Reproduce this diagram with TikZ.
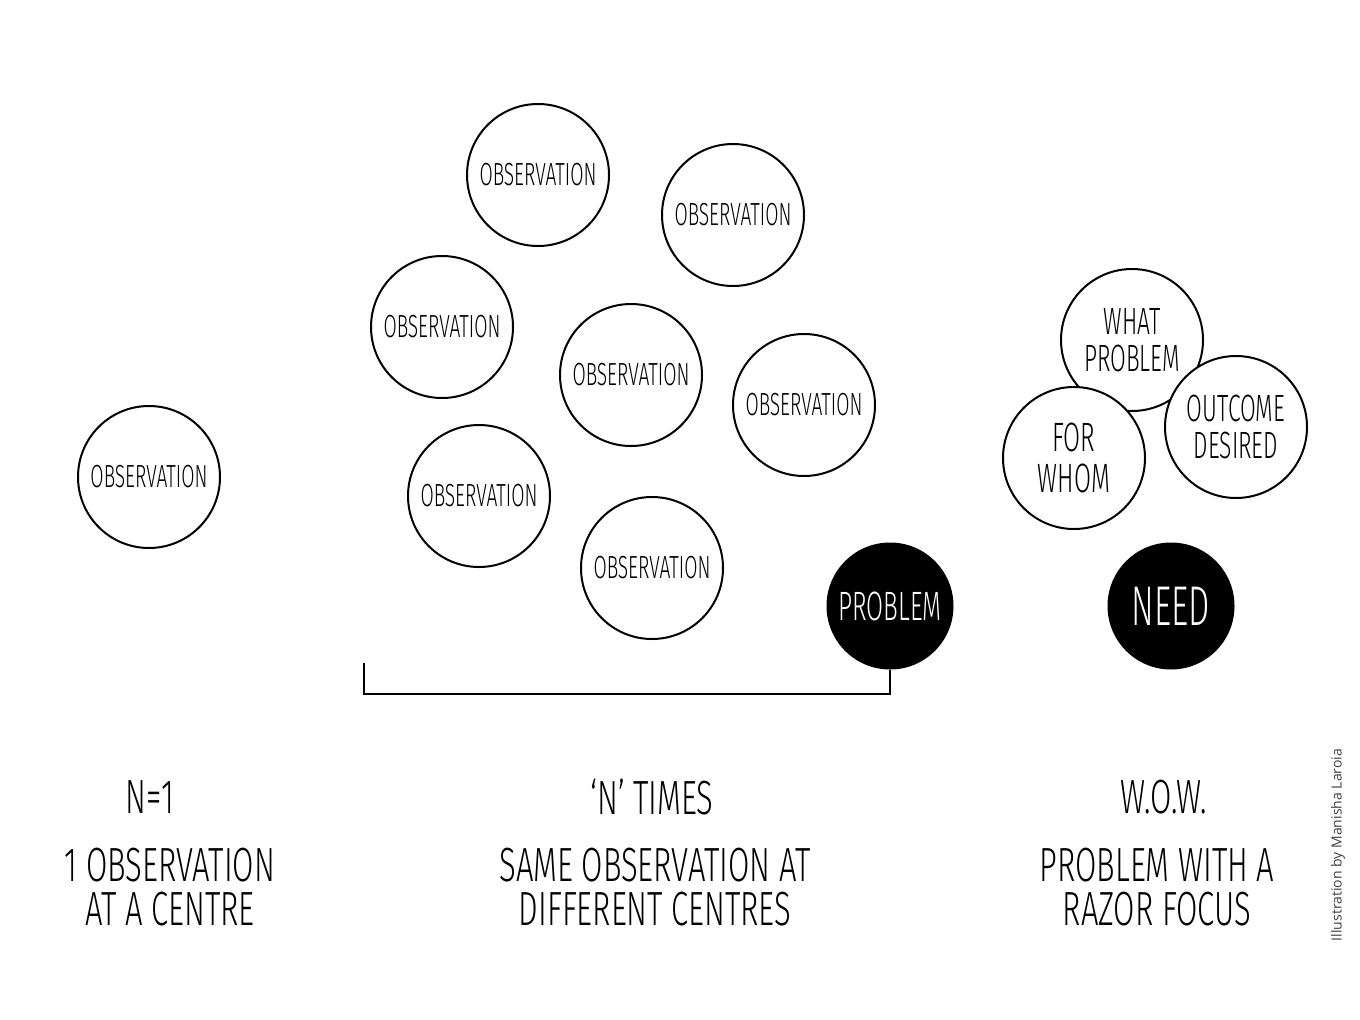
\documentclass[tikz,border=0pt]{standalone}
\usepackage{fontspec}
\setmainfont{Fira Sans}[UprightFont=* Light, FakeStretch=0.60]
\newfontfamily\capfont{Fira Sans}[UprightFont=* Light, FakeStretch=0.645]
\newfontfamily\creditfont{Open Sans}
\begin{document}
\begin{tikzpicture}[x=1pt,y=-1pt,
  obs/.style={circle, draw, line width=2pt, fill=white, minimum size=142pt, inner sep=0pt, align=center,
    font=\fontsize{32}{32}\selectfont},
  trio/.style={obs, font=\fontsize{38}{37}\selectfont},
  blk/.style={circle, fill=black, text=white, minimum size=127pt, inner sep=0pt},
  caption/.style={align=center, font=\capfont\fontsize{48}{44}\selectfont, inner sep=0pt},
  bracketline/.style={line width=2pt}]
\useasboundingbox (0,0) rectangle (1360,1020);
% left
\node[obs] (o0) at (149,477) {OBSERVATION};
% middle cluster
\node[obs] (o1) at (538,175) {OBSERVATION};
\node[obs] (o2) at (733,215) {OBSERVATION};
\node[obs] (o3) at (442,327) {OBSERVATION};
\node[obs] (o4) at (631,375) {OBSERVATION};
\node[obs] (o5) at (804,405) {OBSERVATION};
\node[obs] (o6) at (479,496) {OBSERVATION};
\node[obs] (o7) at (652,568) {OBSERVATION};
\node[blk, font=\fontsize{41}{41}\selectfont] (prob) at (890,606) {PROBLEM};
% right cluster
\node[trio] (what) at (1132,340) {WHAT\\PROBLEM};
\node[trio, font=\fontsize{41}{41}\selectfont] (whom) at (1074,458) {FOR\\WHOM};
\node[trio] (outc) at (1236,427) {OUTCOME\\DESIRED};
\node[blk, font=\fontsize{56}{56}\selectfont] (need) at (1171,606) {NEED};
% bracket
\coordinate (bl) at (364,663);
\coordinate (bb) at (364,694);
\draw[bracketline] (bl) -- (bb) -| (prob.south);
% captions
\node[caption] (c1a) at (150,797) {N=1};
\node[caption] (c1b) at (170,887) {1 OBSERVATION\\AT A CENTRE};
\node[caption] (c2a) at (652,797) {‘N’ TIMES};
\node[caption] (c2b) at (655,887) {SAME OBSERVATION AT\\DIFFERENT CENTRES};
\node[caption] (c3a) at (1164,797) {W.O.W.};
\node[caption] (c3b) at (1157,887) {PROBLEM WITH A\\RAZOR FOCUS};
% credit
\node[rotate=90, text=black!75, font=\creditfont\fontsize{14}{14}\selectfont, inner sep=0pt] (credit) at (1338,845) {Illustration by Manisha Laroia};
\end{tikzpicture}
\end{document}
